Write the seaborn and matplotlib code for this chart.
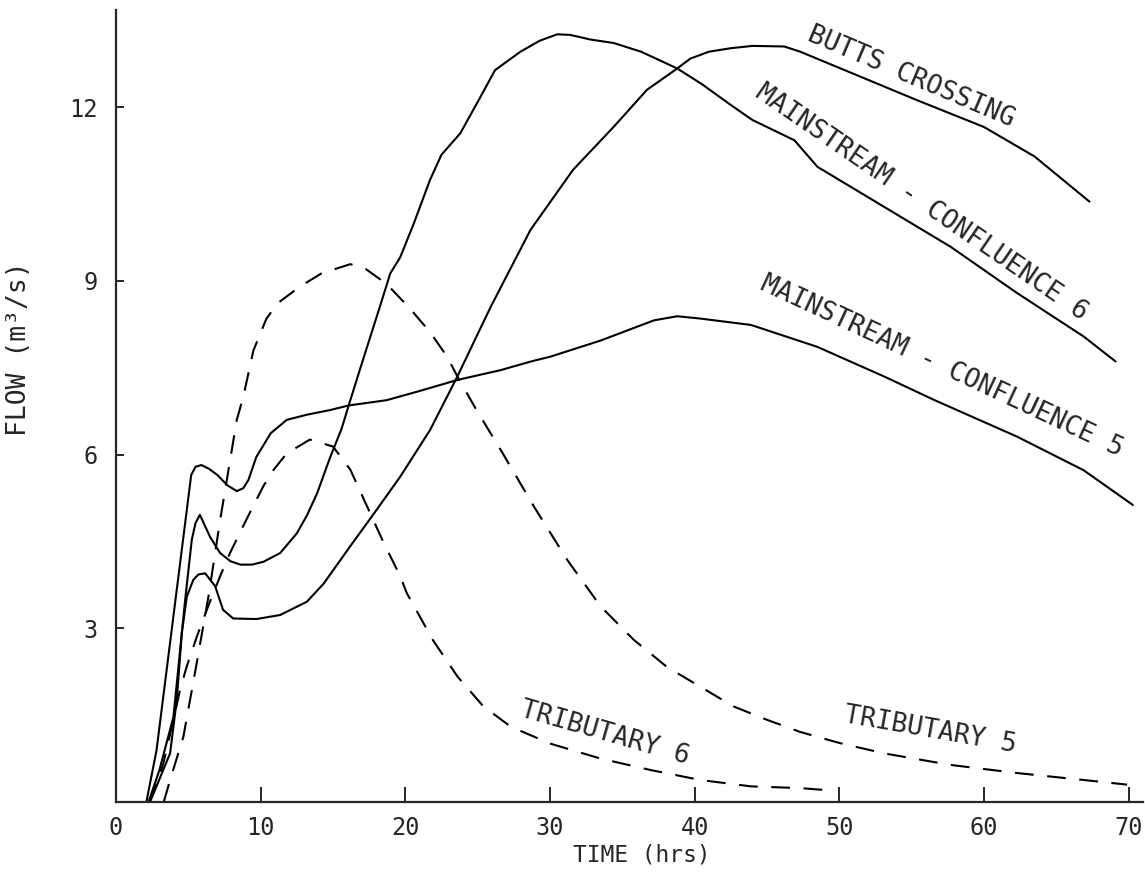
import matplotlib
matplotlib.use("Agg")
import matplotlib.pyplot as plt
import seaborn as sns

# flow hydrographs
t_mc5 = [2.1, 2.8, 5.2, 5.5, 5.9, 6.4, 7.0, 7.7, 8.35, 8.8, 9.15, 9.7, 10.7, 11.8,
         13.2, 14.8, 16.1, 18.7, 21.0, 23.6, 26.6, 28.7, 30.0, 33.5, 37.2, 38.8,
         40.4, 43.9, 48.5, 53.1, 56.6, 62.3, 66.9, 70.3]
q_mc5 = [0, 0.89, 5.65, 5.79, 5.82, 5.76, 5.65, 5.47, 5.37, 5.42, 5.56, 5.96, 6.37, 6.6,
         6.69, 6.77, 6.85, 6.94, 7.1, 7.29, 7.46, 7.61, 7.69, 7.97, 8.32, 8.39,
         8.35, 8.24, 7.86, 7.35, 6.94, 6.31, 5.73, 5.13]

t_mc6 = [2.25, 3.0, 3.97, 4.78, 5.24, 5.5, 5.8, 6.5, 7.2, 7.9, 8.6, 9.4, 10.2, 11.35,
         12.5, 13.2, 13.9, 14.8, 15.6, 16.1, 16.9, 17.6, 18.3, 18.96, 19.65, 20.6,
         21.7, 22.5, 23.8, 25.2, 26.2, 27.96, 29.3, 30.5, 31.4, 32.8, 34.4, 36.3,
         38.8, 40.5, 42.5, 44.0, 46.9, 48.5, 53.1, 57.7, 62.3, 66.9, 69.1]
q_mc6 = [0, 0.55, 1.47, 3.49, 4.53, 4.82, 4.96, 4.58, 4.3, 4.16, 4.1, 4.1, 4.15, 4.3,
         4.64, 4.95, 5.33, 5.95, 6.45, 6.86, 7.5, 8.05, 8.6, 9.13, 9.41, 10.0,
         10.74, 11.18, 11.55, 12.18, 12.64, 12.96, 13.15, 13.26, 13.25, 13.17, 13.11, 12.96,
         12.67, 12.4, 12.04, 11.78, 11.43, 10.97, 10.28, 9.59, 8.79, 8.04, 7.61]

t_butts = [2.35, 3.74, 4.2, 4.55, 4.9, 5.35, 5.7, 6.16, 6.85, 7.4, 8.1, 9.7, 11.35,
           13.2, 14.35, 16.2, 18.0, 19.65, 21.7, 23.6, 25.9, 28.65, 31.6, 34.4, 36.7,
           38.8, 39.7, 41.0, 42.5, 44.0, 46.2, 47.3, 50.1, 55.4, 60.0, 63.5, 67.3]
q_butts = [0, 0.84, 1.76, 2.92, 3.55, 3.84, 3.93, 3.95, 3.73, 3.32, 3.17, 3.16, 3.23,
           3.46, 3.77, 4.42, 5.04, 5.62, 6.42, 7.35, 8.55, 9.88, 10.92, 11.66, 12.3,
           12.67, 12.84, 12.96, 13.02, 13.06, 13.05, 12.96, 12.67, 12.12, 11.66, 11.15, 10.37]

t_trib5 = [3.3, 3.74, 4.66, 5.58, 6.4, 7.2, 7.66, 8.35, 8.8, 9.5, 10.4, 11.2, 12.7,
           14.2, 16.2, 17.3, 18.7, 20.3, 21.7, 22.9, 23.6, 24.9, 26.6, 28.9, 31.2,
           33.5, 35.8, 38.1, 40.4, 42.7, 45.0, 47.3, 50.0, 53.1, 57.7, 62.3, 66.9, 69.9]
q_trib5 = [0, 0.38, 1.13, 2.4, 3.56, 4.87, 5.56, 6.6, 7.0, 7.8, 8.35, 8.62, 8.9,
           9.13, 9.29, 9.2, 8.95, 8.53, 8.12, 7.69, 7.35, 6.78, 6.08, 5.1, 4.18,
           3.38, 2.8, 2.33, 1.99, 1.65, 1.42, 1.21, 1.02, 0.84, 0.64, 0.5, 0.38, 0.3]

t_trib6 = [2.3, 2.58, 3.27, 3.97, 4.43, 4.9, 5.58, 6.4, 7.2, 7.9, 8.8, 9.5, 10.2,
           10.9, 11.8, 13.4, 15.0, 16.2, 17.35, 18.5, 19.65, 20.1, 21.9, 23.6, 25.4,
           27.3, 30.0, 33.5, 37.0, 40.4, 43.9, 47.3, 49.4]
q_trib6 = [0, 0.15, 0.66, 1.42, 1.94, 2.35, 2.85, 3.4, 3.9, 4.31, 4.77, 5.12, 5.46,
           5.74, 6.02, 6.26, 6.14, 5.74, 5.11, 4.48, 3.9, 3.61, 2.8, 2.17, 1.65,
           1.3, 1.01, 0.75, 0.55, 0.38, 0.27, 0.24, 0.2]

x_ticks = [0, 10, 20, 30, 40, 50, 60, 70]
y_ticks = [3, 6, 9, 12]

sns.set_style("ticks")
plt.rcParams['font.family'] = ['DejaVu Sans Mono', 'DejaVu Sans']

fig = plt.figure(figsize=(11.45, 8.83), dpi=100)
ax = fig.add_axes([116 / 1145, 81 / 883, 1027 / 1145, 792 / 883])

solid = dict(color='black', linewidth=1.5, estimator=None, sort=False, ax=ax)
dashed = dict(solid, linestyle=(0, (9, 6.5)))

sns.lineplot(x=t_butts, y=q_butts, **solid)
sns.lineplot(x=t_mc6, y=q_mc6, **solid)
sns.lineplot(x=t_mc5, y=q_mc5, **solid)
sns.lineplot(x=t_trib5, y=q_trib5, **dashed)
sns.lineplot(x=t_trib6, y=q_trib6, **dashed)

lab = dict(fontsize=19, ha='center', va='center', rotation_mode='anchor')
ax.text(54.95, 12.52, 'BUTTS CROSSING', rotation=-23, **lab)
ax.text(55.7, 10.36, 'MAINSTREAM - CONFLUENCE 6', rotation=-34.5, **lab)
ax.text(57.1, 7.52, 'MAINSTREAM - CONFLUENCE 5', rotation=-25, **lab)
ax.text(33.8, 1.19, 'TRIBUTARY 6', rotation=-16, **lab)
ax.text(56.3, 1.24, 'TRIBUTARY 5', rotation=-10, **lab)

ax.set_xlim(0, 71)
ax.set_ylim(0, 13.68)
ax.set_xticks(x_ticks)
ax.set_yticks(y_ticks)
ax.tick_params(axis='x', direction='in', length=10.5, width=1.4, pad=10, labelsize=17)
ax.tick_params(axis='y', direction='in', length=6, width=1.4, pad=13, labelsize=17)
sns.despine(ax=ax)
for s in ['left', 'bottom']:
    ax.spines[s].set_linewidth(1.6)

ax.set_xlabel('TIME (hrs)', fontsize=16.5)
ax.set_ylabel('FLOW (m³/s)', fontsize=19)
ax.xaxis.set_label_coords((641 - 116) / 1026, (802 - 843) / 792)
ax.yaxis.set_label_coords((32 - 116) / 1026, (802 - 349) / 792)

fig.savefig('out.png', dpi=100)
